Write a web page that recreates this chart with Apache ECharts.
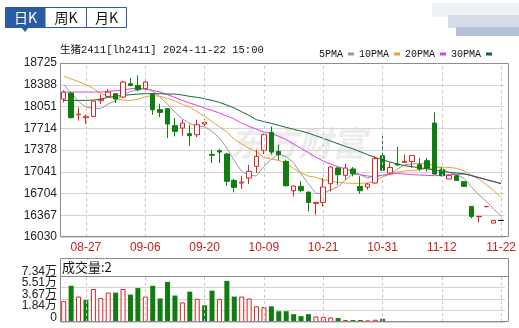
<!DOCTYPE html>
<html lang="zh-CN">
<head>
    <meta charset="UTF-8">
    <title>生猪2411 日K</title>
    <script src="https://cdn.jsdelivr.net/npm/echarts@6/dist/echarts.min.js"></script>
    <style>
        * { margin: 0; padding: 0; }
        body { background: #fff; }
        #chart { width: 519px; height: 328px; }
    </style>
</head>
<body>
    <div id="chart"></div>
    <script>
        // 交易日
        const dates = ['08-22','08-23','08-26','08-27','08-28','08-29','08-30',
            '09-02','09-03','09-04','09-05','09-06','09-09','09-10','09-11','09-12','09-13',
            '09-18','09-19','09-20','09-23','09-24','09-25','09-26','09-27','09-30',
            '10-08','10-09','10-10','10-11','10-14','10-15','10-16','10-17','10-18',
            '10-21','10-22','10-23','10-24','10-25','10-28','10-29','10-30','10-31',
            '11-01','11-04','11-05','11-06','11-07','11-08','11-11','11-12','11-13',
            '11-14','11-15','11-18','11-19','11-20','11-21','11-22'];
        const tickLabels = ['08-27','09-06','09-20','10-09','10-21','10-31','11-12','11-22'];

        // K线 开/收/低/高
        const open = [18167,18260,17924,17878,17898,18140,18208,18249,18198,18404,
            18378,18327,18244,18002,18017,17754,17718,17630,17614,17780,
            17310,17367,17315,16907,16866,16943,17124,17372,17651,17356,
            17201,16747,16814,16726,16551,16566,16855,17098,16985,17083,
            16814,16804,16866,17289,17021,17160,17186,17201,17150,17212,
            17795,17072,16928,16979,16886,16504,16344,16499,16246,16287];
        const close = [18275,17878,17934,17898,18136,18160,18275,18167,18430,18378,
            18311,18430,18002,17960,17780,17666,17795,17599,17769,17805,
            17295,17346,16892,16799,16881,17046,17279,17614,17346,17305,
            16824,16819,16752,16566,16566,16804,17114,16995,17098,17010,
            16747,16850,17243,17062,17108,17144,17201,17294,17083,17098,
            17005,16979,16985,16907,16814,16349,16349,16504,16287,16287];
        const low = [18115,17867,17831,17779,17888,18089,18198,18105,18182,18363,
            18286,18311,17924,17888,17563,17589,17599,17444,17578,17718,
            17176,17176,16824,16721,16773,16850,17021,17315,17305,17217,
            16814,16659,16721,16427,16375,16504,16737,16840,16918,16969,
            16701,16762,16855,17062,17005,17134,17186,17098,17057,17046,
            16995,16969,16928,16907,16814,16318,16256,16499,16246,16287];
        const high = [18301,18275,18038,17924,18146,18234,18322,18260,18451,18492,
            18533,18456,18260,18094,18027,17872,17847,17769,17847,17857,
            17382,17392,17330,16933,16979,17150,17382,17630,17743,17460,
            17227,16824,16892,16726,16566,16943,17124,17114,17165,17114,
            16969,16866,17279,17599,17186,17423,17305,17294,17253,17253,
            17960,17114,16995,16995,16886,16504,16349,16504,16287,16287];

        // 均线
        const ma5 = [18389,18260,18131,18043,18024,18020,18090,18140,18236,18282,
            18312,18330,18290,18200,18085,17965,17860,17790,17740,17740,
            17665,17563,17410,17215,17045,16990,16975,17124,17233,17318,
            17274,17183,17010,16854,16706,16702,16760,16809,16915,17004,
            16993,16940,16990,16982,17002,17081,17152,17162,17166,17164,
            17136,17092,17030,16995,16938,16807,16681,16585,16461,16355];
        const ma10 = [18518,18477,18435,18389,18332,18255,18208,18167,18151,18146,
            18162,18203,18218,18208,18177,18136,18084,18043,17971,17898,
            17816,17738,17656,17547,17470,17403,17351,17263,17237,17217,
            17170,17093,17021,16974,16954,16917,16897,16876,16866,16861,
            16861,16866,16902,16959,17005,17036,17052,17062,17072,17088,
            17103,17114,17108,17093,17057,16985,16928,16840,16747,16649];
        const ma20 = [18275,18275,18275,18275,18275,18275,18286,18296,18306,18327,
            18332,18322,18301,18275,18235,18190,18145,18105,18069,18027,
            17991,17950,17904,17857,17795,17743,17702,17656,17635,17589,
            17542,17470,17403,17336,17268,17207,17160,17119,17083,17046,
            16995,16974,16964,16985,17000,17015,17005,16995,16990,16985,
            16979,16985,16995,17000,17005,16985,16953,16922,16891,16860];
        const ma30 = [18146,18146,18146,18146,18151,18167,18193,18208,18224,18234,
            18244,18249,18249,18249,18244,18244,18229,18208,18193,18172,
            18146,18115,18074,18027,17971,17914,17847,17816,17790,17759,
            17728,17697,17671,17640,17599,17558,17516,17475,17434,17397,
            17351,17305,17263,17227,17191,17160,17134,17119,17103,17088,
            17067,17046,17031,17021,17010,16979,16948,16917,16886,16855];

        // 成交量 (手) 与涨跌标记 (1=红 0=绿)
        const volume = [33300,57800,40600,34900,52600,38500,46900,46900,52600,43700,
            54100,40600,57800,37500,64000,42200,31200,48400,37000,26600,
            50000,37000,65600,40600,40600,37500,25000,23900,25000,17200,
            17200,12500,9400,12500,8850,8300,7300,6250,3100,3100,
            3100,2600,3600,5200,1500,1400,1600,1500,1300,1400,
            1500,1300,1200,1300,1200,1100,1200,1000,900,2];
        const volUp = [1,0,1,0,1,1,1,0,1,0,
            0,1,0,0,0,0,1,0,1,0,
            0,1,0,0,1,1,1,1,0,0,
            0,0,0,0,1,1,1,0,1,0,
            0,1,1,0,1,0,1,1,0,0,
            0,0,1,0,0,0,1,1,1,1];

        const priceTicks = { min: 16030, max: 18725, step: 336.875 };
        const volTicks = { min: 0, max: 73400, step: 18350 };

        const RED = '#dd2020';
        const GREEN = '#0f7d0f';
        const MONO = '"Liberation Mono", "Noto Sans CJK SC", monospace';
        const SANS = '"Liberation Sans", "Noto Sans CJK SC", sans-serif';

        const candleData = dates.map((d, i) => [open[i], close[i], low[i], high[i]]);
        const volData = volume.map((v, i) => ({
            value: v,
            itemStyle: volUp[i]
                ? { color: '#fff', borderColor: RED, borderWidth: 1 }
                : { color: GREEN, borderColor: GREEN, borderWidth: 0 }
        }));

        const vLines = {
            silent: true,
            symbol: ['none', 'none'],
            label: { show: false },
            lineStyle: { color: '#c8c8c8', type: [3, 3], width: 1 },
            data: tickLabels.map(d => ({ xAxis: d }))
        };

        function maLine(name, data, color) {
            return {
                name: name, type: 'line', data: data,
                xAxisIndex: 0, yAxisIndex: 0,
                showSymbol: false, color: color,
                lineStyle: { color: color, width: 1 },
                z: 3
            };
        }

        // 成交量刻度：标签很密，分两根轴交替显示，避免被自动隐藏
        function volLabel(v) {
            return v === 0 ? '0' : (Math.round(v / 100) / 100).toFixed(2) + '万';
        }
        function volAxis(odd) {
            return {
                type: 'value', gridIndex: 1,
                min: volTicks.min, max: volTicks.max, interval: volTicks.step,
                axisLine: { show: false }, axisTick: { show: false },
                axisLabel: {
                    formatter: v => (Math.round(v / volTicks.step) % 2 === (odd ? 1 : 0)) ? volLabel(v) : '',
                    color: '#222', fontSize: 12, fontFamily: SANS, margin: 3,
                    showMinLabel: true, showMaxLabel: true,
                    lineHeight: 9, verticalAlign: 'bottom'
                },
                splitLine: { show: !odd, lineStyle: { color: '#d4d4d4' } }
            };
        }

        const chart = echarts.init(document.getElementById('chart'));
        chart.setOption({
            animation: false,
            legend: {
                data: ['5PMA', '10PMA', '20PMA', '30PMA'],
                top: 44, right: 22,
                align: 'right',
                icon: 'rect',
                itemWidth: 6, itemHeight: 3, itemGap: 5,
                selectedMode: false,
                textStyle: { fontFamily: MONO, fontSize: 10, color: '#111' }
            },
            grid: [
                { left: 60, top: 63, width: 445, height: 174 },
                { left: 60, top: 276, width: 445, height: 46 }
            ],
            xAxis: [
                {
                    type: 'category', gridIndex: 0, data: dates,
                    axisLine: { show: false }, axisTick: { show: false },
                    splitLine: { show: false },
                    axisLabel: {
                        interval: (i, v) => tickLabels.includes(v),
                        color: '#c81e1e', fontSize: 12, fontFamily: SANS, margin: 5
                    }
                },
                {
                    type: 'category', gridIndex: 1, data: dates,
                    axisLine: { show: false }, axisTick: { show: false },
                    axisLabel: { show: false }, splitLine: { show: false }
                }
            ],
            yAxis: [
                {
                    type: 'value', gridIndex: 0,
                    min: priceTicks.min, max: priceTicks.max, interval: priceTicks.step,
                    axisLine: { show: false }, axisTick: { show: false },
                    axisLabel: {
                        formatter: v => Math.round(v),
                        color: '#222', fontSize: 12, fontFamily: SANS, margin: 3
                    },
                    splitLine: { lineStyle: { color: '#d4d4d4' } }
                },
                volAxis(false),
                Object.assign(volAxis(true), { position: 'left', offset: 0 })
            ],
            series: [
                {
                    name: '日K', type: 'candlestick', data: candleData,
                    xAxisIndex: 0, yAxisIndex: 0,
                    barWidth: 5,
                    itemStyle: {
                        color: '#fff', color0: GREEN,
                        borderColor: RED, borderColor0: GREEN,
                        borderColorDoji: '#000', borderWidth: 1
                    },
                    markLine: vLines,
                    z: 4
                },
                maLine('5PMA', ma5, '#9a9a9a'),
                maLine('10PMA', ma10, '#e6a42e'),
                maLine('20PMA', ma20, '#e33ce3'),
                maLine('30PMA', ma30, '#17653a'),
                {
                    name: '成交量', type: 'bar', data: volData,
                    xAxisIndex: 1, yAxisIndex: 1,
                    barWidth: 5, barMinHeight: 1,
                    markLine: vLines
                }
            ],
            graphic: [
                // 水印
                {
                    type: 'text', left: 230, top: 126, z: 0, silent: true,
                    style: {
                        text: '东方财富', fill: '#ececec',
                        font: 'italic bold 34px "Noto Sans CJK SC"'
                    }
                },
                // 周期切换
                { type: 'rect', shape: { x: 5.5, y: 7.5, width: 121, height: 20 },
                  style: { fill: '#fff', stroke: '#2b5ba3', lineWidth: 1 } },
                { type: 'rect', shape: { x: 5.5, y: 7.5, width: 40, height: 20 },
                  style: { fill: '#2b5ba3' } },
                { type: 'line', shape: { x1: 86.5, y1: 7.5, x2: 86.5, y2: 27.5 },
                  style: { stroke: '#2b5ba3', lineWidth: 1 } },
                { type: 'polygon', shape: { points: [[21, 27], [29, 27], [25, 32]] },
                  style: { fill: '#2b5ba3' } },
                { type: 'text', x: 25.5, y: 17.5,
                  style: { text: '日K', fill: '#fff', align: 'center', verticalAlign: 'middle',
                           font: '14px "Noto Sans CJK SC"' } },
                { type: 'text', x: 66, y: 17.5,
                  style: { text: '周K', fill: '#111', align: 'center', verticalAlign: 'middle',
                           font: '14px "Noto Sans CJK SC"' } },
                { type: 'text', x: 106.5, y: 17.5,
                  style: { text: '月K', fill: '#111', align: 'center', verticalAlign: 'middle',
                           font: '14px "Noto Sans CJK SC"' } },
                // 右上角模糊块
                { type: 'rect', shape: { x: 432, y: 3, width: 87, height: 14 }, style: { fill: '#eef1f6' } },
                { type: 'rect', shape: { x: 448, y: 15, width: 71, height: 13 }, style: { fill: '#d6dde9' } },
                { type: 'rect', shape: { x: 456, y: 27, width: 63, height: 9 }, style: { fill: '#b3c1d7' } },
                // 标题
                { type: 'text', x: 60, y: 50,
                  style: { text: '生猪2411[lh2411] 2024-11-22 15:00', fill: '#111',
                           verticalAlign: 'middle', font: '10.5px ' + MONO } },
                // 主图边框
                { type: 'rect', z: 10, silent: true,
                  shape: { x: 60.5, y: 63.5, width: 448, height: 173 },
                  style: { fill: 'none', stroke: '#8c8c8c', lineWidth: 1 } },
                // 成交量边框
                { type: 'rect', z: 10, silent: true,
                  shape: { x: 60.5, y: 258.5, width: 448, height: 63 },
                  style: { fill: 'none', stroke: '#8c8c8c', lineWidth: 1 } },
                { type: 'line', z: 10, silent: true,
                  shape: { x1: 60.5, y1: 276.5, x2: 508.5, y2: 276.5 },
                  style: { stroke: '#8c8c8c', lineWidth: 1 } },
                { type: 'text', x: 62, y: 267.5,
                  style: { text: '成交量:' + volume[volume.length - 1], fill: '#111',
                           verticalAlign: 'middle', font: '13px "Noto Sans CJK SC"' } }
            ]
        });
    </script>
</body>
</html>
